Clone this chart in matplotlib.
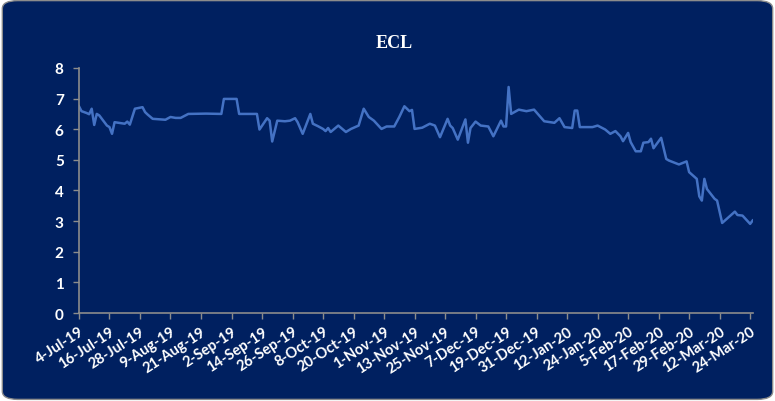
import numpy as np
import pandas as pd
import matplotlib
matplotlib.use("Agg")
import matplotlib.pyplot as plt
import matplotlib.dates as mdates
from matplotlib.patches import FancyBboxPatch

# ECL closing values, Jul 2019 - Mar 2020
dates = [
    "2019-07-04", "2019-07-05", "2019-07-07", "2019-07-08", "2019-07-09", "2019-07-10",
    "2019-07-11", "2019-07-12", "2019-07-14", "2019-07-15", "2019-07-16", "2019-07-17",
    "2019-07-18", "2019-07-22", "2019-07-23", "2019-07-24", "2019-07-26", "2019-07-29",
    "2019-07-30", "2019-07-31", "2019-08-02", "2019-08-07", "2019-08-09", "2019-08-11",
    "2019-08-13", "2019-08-16", "2019-08-23", "2019-08-29", "2019-08-30", "2019-09-04",
    "2019-09-05", "2019-09-12", "2019-09-13", "2019-09-16", "2019-09-17", "2019-09-18",
    "2019-09-20", "2019-09-23", "2019-09-25", "2019-09-27", "2019-09-28", "2019-09-30",
    "2019-10-03", "2019-10-04", "2019-10-06", "2019-10-08", "2019-10-09", "2019-10-10",
    "2019-10-11", "2019-10-14", "2019-10-17", "2019-10-19", "2019-10-22", "2019-10-24",
    "2019-10-26", "2019-10-28", "2019-10-31", "2019-11-02", "2019-11-05", "2019-11-07",
    "2019-11-09", "2019-11-11", "2019-11-12", "2019-11-13", "2019-11-16", "2019-11-19",
    "2019-11-21", "2019-11-23", "2019-11-26", "2019-11-27", "2019-11-28", "2019-11-30",
    "2019-12-03", "2019-12-04", "2019-12-05", "2019-12-07", "2019-12-09", "2019-12-11",
    "2019-12-12", "2019-12-14", "2019-12-17", "2019-12-18", "2019-12-19", "2019-12-20",
    "2019-12-21", "2019-12-24", "2019-12-27", "2019-12-30", "2020-01-03", "2020-01-07",
    "2020-01-09", "2020-01-11", "2020-01-14", "2020-01-15", "2020-01-16", "2020-01-17",
    "2020-01-22", "2020-01-24", "2020-01-27", "2020-01-29", "2020-01-31", "2020-02-02",
    "2020-02-03", "2020-02-05", "2020-02-06", "2020-02-08", "2020-02-10", "2020-02-11",
    "2020-02-13", "2020-02-14", "2020-02-15", "2020-02-18", "2020-02-20", "2020-02-21",
    "2020-02-25", "2020-02-28", "2020-02-29", "2020-03-03", "2020-03-04", "2020-03-05",
    "2020-03-06", "2020-03-07", "2020-03-10", "2020-03-11", "2020-03-13", "2020-03-18",
    "2020-03-19", "2020-03-21", "2020-03-24", "2020-03-25",
]
ecl = [
    6.75, 6.59, 6.53, 6.49, 6.67, 6.14,
    6.50, 6.45, 6.23, 6.12, 6.07, 5.85,
    6.23, 6.18, 6.25, 6.15, 6.67, 6.72,
    6.56, 6.48, 6.34, 6.31, 6.40, 6.37,
    6.37, 6.50, 6.51, 6.50, 6.99, 6.99,
    6.50, 6.50, 5.99, 6.36, 6.28, 5.60,
    6.28, 6.26, 6.28, 6.36, 6.23, 5.85,
    6.50, 6.18, 6.10, 6.01, 5.94, 6.04,
    5.91, 6.12, 5.91, 6.01, 6.12, 6.67,
    6.40, 6.28, 6.01, 6.09, 6.09, 6.40,
    6.75, 6.59, 6.63, 6.01, 6.05, 6.18,
    6.12, 5.74, 6.34, 6.12, 6.04, 5.66,
    6.32, 5.56, 6.04, 6.25, 6.12, 6.10,
    6.09, 5.77, 6.28, 6.09, 6.09, 7.38,
    6.50, 6.64, 6.59, 6.64, 6.26, 6.21,
    6.36, 6.07, 6.04, 6.61, 6.61, 6.07,
    6.07, 6.12, 5.99, 5.85, 5.94, 5.77,
    5.61, 5.88, 5.58, 5.28, 5.28, 5.56,
    5.58, 5.69, 5.38, 5.72, 5.03, 4.98,
    4.85, 4.95, 4.60, 4.38, 3.81, 3.67,
    4.38, 4.05, 3.73, 3.67, 2.94, 3.31,
    3.20, 3.18, 2.91, 3.02,
]
dates = pd.to_datetime(dates)

navy = "#002060"
line_blue = "#4472C4"
grey = "#8c8c8c"

fig = plt.figure(figsize=(7.75, 4.02), dpi=100)
fig.patch.set_facecolor("white")

# rounded chart frame behind everything
frame = FancyBboxPatch((0.003, 0.004), 0.994, 0.992,
                       boxstyle="round,pad=0,rounding_size=0.02",
                       transform=fig.transFigure, facecolor=navy,
                       edgecolor=grey, linewidth=1.0, zorder=-10)
fig.add_artist(frame)

ax = fig.add_axes([0.1019, 0.2189, 0.8693, 0.6095])
ax.set_zorder(1)
ax.patch.set_alpha(0)
ax.plot(dates, ecl, color=line_blue, linewidth=1.8)

start = pd.Timestamp("2019-07-04")
ticks = pd.date_range(start, "2020-03-24", freq="12D")
ax.set_xticks(ticks)
ax.xaxis.set_major_formatter(mdates.DateFormatter("%-d-%b-%y"))
ax.set_xlim(start, pd.Timestamp("2020-03-25"))
ax.set_ylim(0, 8)
ax.set_yticks(range(0, 9))

for side in ["top", "right"]:
    ax.spines[side].set_visible(False)
for side in ["left", "bottom"]:
    ax.spines[side].set_color(grey)
    ax.spines[side].set_linewidth(1.2)

ax.tick_params(axis="both", colors=grey, length=4, width=1.0, direction="out")
ax.tick_params(axis="y", labelcolor="white", labelsize=11, pad=7)
ax.tick_params(axis="x", labelcolor="white", labelsize=10.5, pad=4)
for lbl in ax.get_yticklabels():
    lbl.set_fontweight("bold")
    lbl.set_family("Lato")
for lbl in ax.get_xticklabels():
    lbl.set_fontweight("bold")
    lbl.set_family("Lato")
    lbl.set_rotation(33)
    lbl.set_ha("right")
    lbl.set_va("top")
    lbl.set_rotation_mode("anchor")

fig.text(0.509, 0.893, "ECL", color="white", fontsize=13, fontweight="bold",
         family="Liberation Serif", ha="center", va="center")

fig.savefig("out.png", dpi=100, facecolor=fig.get_facecolor())
